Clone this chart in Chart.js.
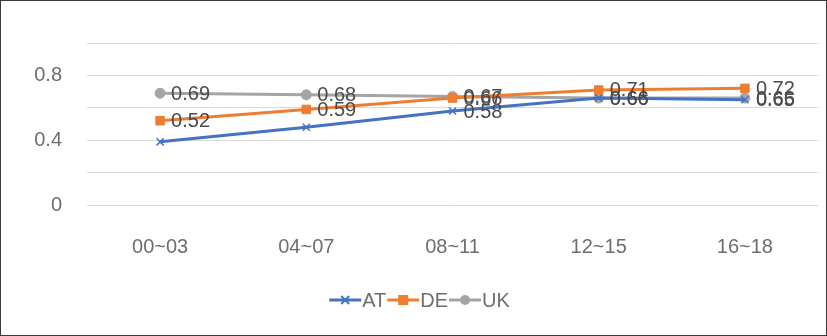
<!DOCTYPE html>
<html><head><meta charset="utf-8">
<script src="https://cdn.jsdelivr.net/npm/chart.js@4/dist/chart.umd.min.js"></script>
<style>html,body{margin:0;padding:0;background:#fff}#w{width:827px;height:336px;position:relative}</style>
</head><body><div id="w"><canvas id="c" width="827" height="336"></canvas></div>
<script>
const categories = ["00~03","04~07","08~11","12~15","16~18"];
const seriesNames = ["AT","DE","UK"];
const atValues = [0.39,0.48,0.58,0.66,0.65];
const deValues = [0.52,0.59,0.66,0.71,0.72];
const ukValues = [0.69,0.68,0.67,0.66,0.66];
const yTickLabels = [0,0.4,0.8];
const atLabelShown = [false,false,true,true,true];

const colors = ["#4472C4","#ED7D31","#A5A5A5"];
const styles = ["crossRot","rect","circle"];
const FONT = '"Liberation Sans", Arial, sans-serif';
const TICK_COLOR = '#6e6e6e';

function drawIcon(x, cx, cy, w, color, style){
  x.save();
  x.strokeStyle=color; x.lineWidth=3; x.beginPath(); x.moveTo(cx,cy); x.lineTo(cx+w,cy); x.stroke();
  x.fillStyle=color; const m=cx+w/2;
  if(style==='rect'){ x.fillRect(m-5,cy-5,10,10); }
  else if(style==='circle'){ x.beginPath(); x.arc(m,cy,5,0,Math.PI*2); x.fill(); }
  else { x.lineWidth=2; x.beginPath(); x.moveTo(m-4,cy-4);x.lineTo(m+4,cy+4);x.moveTo(m+4,cy-4);x.lineTo(m-4,cy+4); x.stroke(); }
  x.restore();
}

const frame={id:'frame',afterDraw(ch){const x=ch.ctx;x.save();x.strokeStyle='#3a3a3a';x.lineWidth=1;x.strokeRect(0.5,0.5,826,335);x.restore();}};
const legend={id:'mylegend',afterDraw(ch){
  const x=ch.ctx; x.save(); x.font='20px '+FONT; x.fillStyle=TICK_COLOR; x.textBaseline='middle'; x.textAlign='left';
  const iw=32, gap=1;
  const names=ch.data.datasets.map(d=>d.label);
  let total=0; names.forEach(n=>{total+=iw+gap+x.measureText(n).width+1;});
  let cx=420-total/2; const cy=300;
  names.forEach((n,i)=>{
    drawIcon(x,cx,cy,iw,colors[i],styles[i]); cx+=iw+gap;
    x.fillText(n,cx,cy+1); cx+=x.measureText(n).width+1;
  });
  x.restore();
}};
const labels={id:'labels',afterDatasetsDraw(ch){
  const x=ch.ctx; x.save(); x.font='20px '+FONT; x.fillStyle='#4a4a4a'; x.textBaseline='middle'; x.textAlign='left';
  ch.data.datasets.forEach((ds,i)=>{
    ch.getDatasetMeta(i).data.forEach((p,j)=>{
      if(i===0 && !atLabelShown[j]) return;
      x.fillText(ds.data[j].toFixed(2), p.x+11, p.y+1);
    });
  });
  x.restore();
}};

const vals=[atValues,deValues,ukValues];
new Chart(document.getElementById('c'),{
  type:'line',
  data:{labels:categories,datasets:seriesNames.map((n,i)=>({
    label:n,data:vals[i],borderColor:colors[i],backgroundColor:colors[i],borderWidth:3,
    pointStyle:styles[i],pointRadius:i===1?6:5,pointBorderWidth:i===0?1.5:1,tension:0
  }))},
  options:{
    responsive:false,animation:false,
    layout:{padding:{left:0,right:9,top:43,bottom:44}},
    plugins:{tooltip:{enabled:false},legend:{display:false}},
    scales:{
      x:{offset:true,grid:{display:false},border:{display:false},
         ticks:{color:TICK_COLOR,padding:22,font:{size:20,family:FONT}},
         afterFit(s){s.height=87;}},
      y:{min:0,max:1,grid:{color:'#d9d9d9',lineWidth:1,drawTicks:false},border:{display:false},
         ticks:{stepSize:0.2,padding:25,color:TICK_COLOR,font:{size:20,family:FONT},
           callback:(v)=>{const m=yTickLabels.find(t=>Math.abs(t-v)<1e-6);return m===undefined?'':String(m);}},
         afterFit(s){s.width=87;}}
    }
  },
  plugins:[labels,legend,frame]
});
</script></body></html>
